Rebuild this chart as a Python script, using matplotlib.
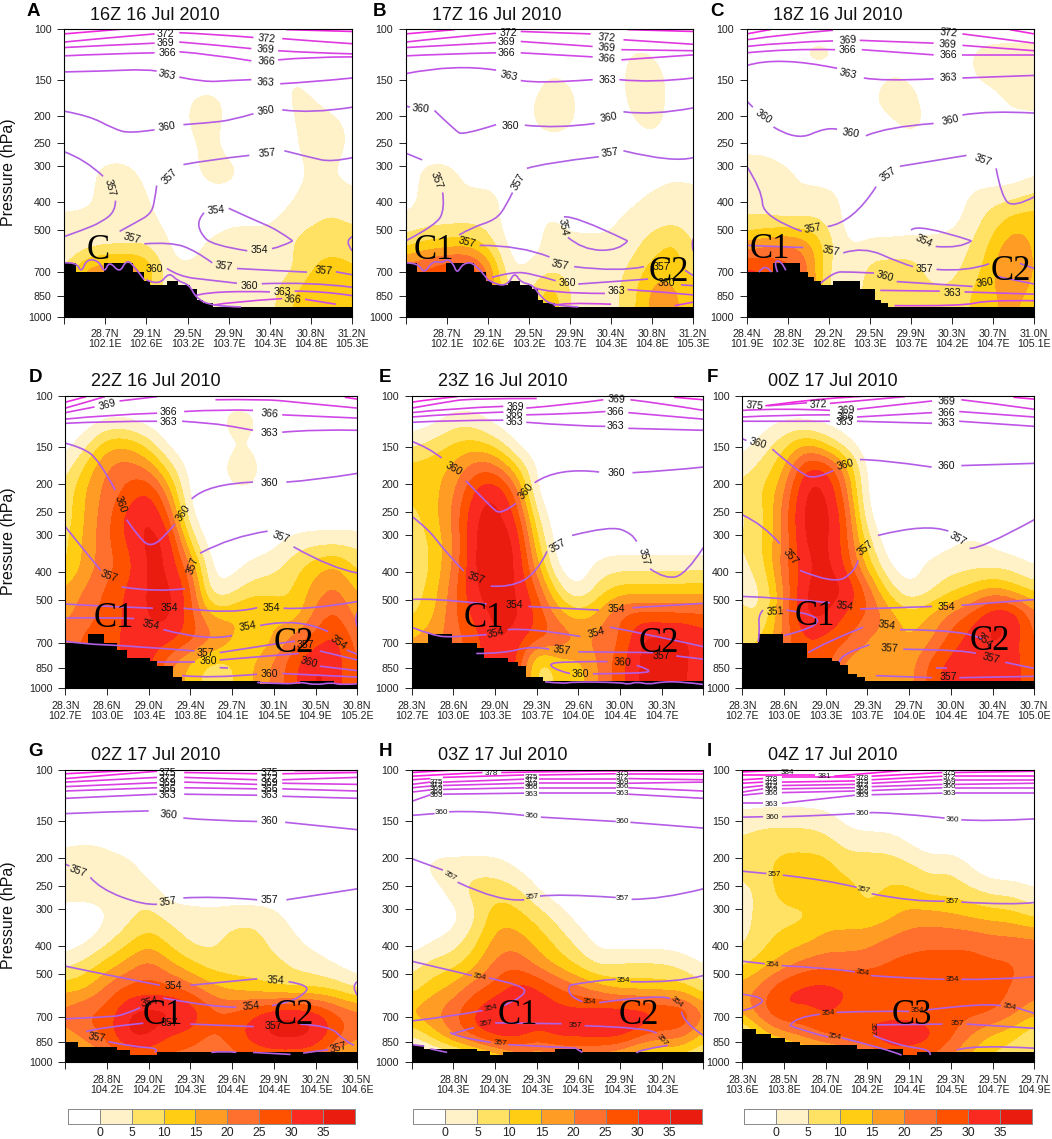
import numpy as np
import matplotlib
matplotlib.use('Agg')
import matplotlib.pyplot as plt
from matplotlib.colors import ListedColormap, BoundaryNorm
from matplotlib.path import Path
from matplotlib.patches import PathPatch

plt.rcParams['font.family'] = ['Liberation Sans', 'DejaVu Sans']

W_PX, H_PX = 1052, 1139

# shading classes
BAR_LEVELS = [-1000, 0, 5, 10, 15, 20, 25, 30, 35, 1000]
BAR_COLORS = ['#ffffff', '#fff2c8', '#ffe264', '#ffcd14', '#ff9c23', '#ff702e',
              '#ff5200', '#fb2a20', '#ea1c10']
BAR_LABELS = ['0', '5', '10', '15', '20', '25', '30', '35']

P_TICKS = [100, 150, 200, 250, 300, 400, 500, 700, 850, 1000]

TITLES = ['16Z 16 Jul 2010', '17Z 16 Jul 2010', '18Z 16 Jul 2010',
          '22Z 16 Jul 2010', '23Z 16 Jul 2010', '00Z 17 Jul 2010',
          '02Z 17 Jul 2010', '03Z 17 Jul 2010', '04Z 17 Jul 2010']
LETTERS = list('ABCDEFGHI')

XLAB_A = ['', '28.7N\n102.1E', '29.1N\n102.6E', '29.5N\n103.2E', '29.9N\n103.7E', '30.4N\n104.3E', '30.8N\n104.8E', '31.2N\n105.3E']
XLAB_B = ['', '28.7N\n102.1E', '29.1N\n102.6E', '29.5N\n103.2E', '29.9N\n103.7E', '30.4N\n104.3E', '30.8N\n104.8E', '31.2N\n105.3E']
XLAB_C = ['28.4N\n101.9E', '28.8N\n102.3E', '29.2N\n102.8E', '29.5N\n103.3E', '29.9N\n103.7E', '30.3N\n104.2E', '30.7N\n104.7E', '31.0N\n105.1E']
XLAB_D = ['28.3N\n102.7E', '28.6N\n103.0E', '29.0N\n103.4E', '29.4N\n103.8E', '29.7N\n104.1E', '30.1N\n104.5E', '30.5N\n104.9E', '30.8N\n105.2E']
XLAB_E = ['28.3N\n102.7E', '28.6N\n103.0E', '29.0N\n103.3E', '29.3N\n103.7E', '29.6N\n104.0E', '30.0N\n104.4E', '30.3N\n104.7E', '']
XLAB_F = ['28.3N\n102.7E', '28.6N\n103.0E', '29.0N\n103.3E', '29.3N\n103.7E', '29.7N\n104.0E', '30.0N\n104.4E', '30.4N\n104.7E', '30.7N\n105.0E']
XLAB_G = ['', '28.8N\n104.2E', '29.0N\n104.2E', '29.3N\n104.3E', '29.6N\n104.4E', '29.9N\n104.4E', '30.2N\n104.5E', '30.5N\n104.6E']
XLAB_H = ['', '28.8N\n104.3E', '29.0N\n104.3E', '29.3N\n104.3E', '29.6N\n104.3E', '29.9N\n104.3E', '30.2N\n104.3E', '']
XLAB_I = ['28.3N\n103.6E', '28.5N\n103.8E', '28.7N\n104.0E', '28.9N\n104.2E', '29.1N\n104.4E', '29.3N\n104.5E', '29.5N\n104.7E', '29.7N\n104.9E']

# shaded field, columns every half tick, rows evenly spaced in log p from 100 to 1000 hPa
FIELD_A = [
    [-4]*15,
    [-4]*15,
    [-4,-4,-4,-4,-4,-4,-4,-4,-4,-4,-4,1,-2,-4,-4],
    [-4,-4,-4,-4,-4,-4,0,3,-1,-4,-4,1,1,-3,-4],
    [-4,-4,-4,-4,-4,-4,0,3,-2,-4,-4,-1,3,3,-2],
    [-4,-4,-4,-4,-4,-4,-2,2,-2,-4,-4,-2,3,3,-2],
    [-4,-3,3,3,-3,-4,-3,3,3,-2,-4,-3,1,0,-3],
    [-4,-3,3,8,0,-4,-4,-3,-3,-4,-4,-1,3,3,2],
    [3,3,1,-1,3,-2,1,-3,-1,-1,-1,3,4,6,4],
    [-2,1,3,4,4,0,-3,1,3,3,3,5,8,8,8],
    [5,18,20,20,17,1,1,2,2,2,2,3,10,13,10],
    [5,18,20,20,10,3,2,1,1,1,3,10,14,14,13],
    [5,18,20,20,10,3,2,1,1,1,3,10,14,14,13]]
FIELD_B = [
    [-4]*15,
    [-4,-4,-4,-4,-4,-4,-4,-4,-4,-4,-4,1,0,-4,-4],
    [-4,-4,-4,-4,-4,-4,-4,1,-1,-4,-4,3,3,-2,-4],
    [-4,-4,-4,-4,-4,-4,-1,4,2,-4,-4,2,3,-2,-4],
    [-4,-4,-4,-4,-4,-4,-1,3,1,-4,-4,-1,3,-3,-4],
    [-4]*15,
    [-4,3,3,-2,-4,-4,-4,-4,-4,-4,-4,-4,-4,-1,-3],
    [-4,3,2,1,3,-2,-4,-4,-4,-4,-4,-2,2,3,3],
    [2,2,3,3,3,-3,-3,2,-2,-2,-1,3,3,3,3],
    [7,12,12,14,8,-2,-3,2,2,2,1,3,7,13,3],
    [25,27,31,31,22,-1,1,3,3,3,3,6,13,13,8],
    [25,27,31,31,22,3,3,17,3,3,3,8,18,17,11],
    [25,27,31,31,22,3,3,17,3,3,3,8,18,17,11]]
FIELD_C = [
    [-4]*15,
    [-4,-4,-4,3,3,-4,-4,-4,-4,-4,-4,1,3,3,3],
    [-4,-4,-4,-4,-4,-4,-3,1,-1,-4,-4,0,3,3,3],
    [-4,-4,-4,-4,-4,-4,-1,4,3,-4,-4,-4,-3,3,3],
    [-4,-4,-4,-4,-4,-4,-4,-2,3,-2,-4,-4,-4,-4,-4],
    [-1,-1,-4,-4,-4,-4,-4,-4,-4,-4,-4,-4,-4,-4,-4],
    [3,3,2,-2,-4,-4,-4,-4,-4,-4,-4,-4,-4,-4,-1],
    [3,3,-1,2,3,-3,-4,-4,-4,-4,-4,2,3,4,7],
    [5,5,5,5,4,-3,-4,-4,-4,-4,-2,3,8,13,13],
    [16,20,22,18,7,-1,2,2,3,3,3,5,12,20,13],
    [33,30,27,22,3,1,7,7,7,3,3,7,15,24,13],
    [33,30,27,22,3,1,8,11,7,6,6,11,15,16,13],
    [33,30,27,22,3,1,8,11,7,6,6,11,15,16,13]]
FIELD_D = [
    [-4]*15,
    [-4,-4,-1,-1,-4,-4,-4,-4,4,2,-4,-4,-4,-4,-4],
    [-3,3,14,14,8,-3,-4,-4,-1,-1,-4,-4,-4,-4,-4],
    [2,12,21,24,20,8,-3,-4,3,3,-4,-4,-4,-4,-4],
    [6,16,22,26,33,18,-3,-4,-1,-1,-4,-4,-4,-4,-4],
    [6,16,23,33,37,27,-1,-4,-4,-4,-4,-4,-4,-4,-4],
    [8,17,24,31,37,36,8,-4,-4,-4,-2,2,3,3,3],
    [8,17,23,27,37,35,22,-2,-3,2,3,8,13,17,8],
    [16,21,26,31,36,37,29,-1,3,8,8,10,18,22,14],
    [18,23,27,31,36,37,28,14,15,18,15,10,22,27,17],
    [22,27,27,32,33,33,28,23,16,9,14,23,27,33,22],
    [22,27,27,32,33,20,13,7,9,15,21,29,37,33,24],
    [22,27,27,32,33,20,13,7,9,15,21,29,37,33,24]]
FIELD_E = [
    [-4]*15,
    [-4,-3,2,2,-3,-4,-4,-4,-4,-4,-4,-4,-4,-4,-4],
    [3,7,11,12,8,-2,-4,-4,-4,-4,-4,-4,-4,-4,-4],
    [13,13,16,24,24,12,-2,-4,-4,-4,-4,-4,-4,-4,-4],
    [11,13,19,32,37,25,-3,-4,-4,-4,-4,-4,-4,-4,-4],
    [8,13,21,36,37,32,4,-4,-4,-4,-4,-4,-4,-4,-4],
    [6,11,19,37,38,37,10,-4,-4,-4,-4,-4,-4,-4,-4],
    [4,11,20,37,38,37,17,-3,-4,2,3,3,3,3,3],
    [7,12,23,36,37,36,26,7,-2,8,12,12,12,12,13],
    [8,14,24,32,37,37,30,18,12,17,27,28,27,27,26],
    [16,18,23,27,36,33,28,26,21,22,24,37,37,37,33],
    [16,18,23,27,36,33,2,12,12,21,28,37,37,37,30],
    [16,18,23,27,36,33,7,12,12,21,28,37,37,37,30]]
FIELD_F = [
    [-4]*15,
    [-4,-3,-1,-2,-3,-4,-4,-4,-4,-4,-4,-4,-4,-4,-4],
    [-3,2,8,16,9,1,-4,-4,-4,-4,-4,-4,-4,-4,-4],
    [3,7,14,32,33,18,-3,-4,-4,-4,-4,-4,-4,-4,-4],
    [7,10,19,37,37,23,-3,-4,-4,-4,-4,-4,-4,-4,-4],
    [3,8,22,38,38,28,-1,-4,-4,-4,-4,-4,-4,-4,-4],
    [5,10,20,37,37,28,7,-4,-4,-4,-1,1,-1,-4,-4],
    [3,8,24,33,38,29,13,-1,-3,2,3,3,3,3,-1],
    [3,3,20,36,38,37,25,8,-1,3,8,12,17,12,8],
    [7,3,22,37,37,28,26,19,12,16,22,27,36,37,22],
    [10,10,22,30,28,27,19,18,14,18,27,33,37,33,23],
    [10,10,22,30,28,17,17,17,17,27,33,33,33,32,27],
    [10,10,22,30,28,17,17,17,17,27,33,33,33,32,27]]
FIELD_G = [
    [-4]*15,
    [-4]*15,
    [-4]*15,
    [-1,0,-1,-4,-4,-4,-4,-4,-4,-4,-4,-4,-4,-4,-4],
    [3,3,3,3,-3,-4,-4,-4,-4,-4,-4,-4,-4,-4,-4],
    [3,3,3,3,3,-3,-4,-4,-4,-4,-4,-4,-4,-4,-4],
    [-3,-4,-1,3,7,3,3,2,3,3,2,-2,-4,-4,-4],
    [-4,-2,3,8,13,8,3,3,7,8,3,1,-3,-4,-4],
    [3,7,12,17,23,16,11,7,7,7,7,4,3,-1,-3],
    [13,14,22,27,27,27,23,17,13,12,8,8,8,8,3],
    [23,27,27,36,38,38,37,27,27,30,36,37,35,27,23],
    [17,22,27,37,37,29,27,23,27,34,38,38,36,28,22],
    [7,12,17,22,22,22,22,22,22,22,22,22,22,12,8]]
FIELD_H = [
    [-4]*15,
    [-4]*15,
    [-4]*15,
    [-4]*15,
    [-3,3,3,3,3,-1,-4,-4,-4,-4,-4,-4,-4,-4,-4],
    [-4,-3,3,8,8,7,0,-4,-4,-4,-4,-4,-4,-4,-4],
    [-4,-4,-3,3,14,12,8,3,-3,-4,-4,-4,-4,-4,-4],
    [-4,-1,2,8,17,18,13,8,3,-3,-4,-4,-4,-4,-4],
    [3,7,8,13,22,24,18,13,8,3,6,6,6,3,-1],
    [7,13,17,24,27,33,32,26,22,17,12,12,12,12,6],
    [18,21,24,32,36,37,34,33,33,36,37,37,33,33,21],
    [3,12,22,29,33,33,28,33,33,33,33,25,22,22,12],
    [-8,-8,-8,-4,4,12,12,12,12,12,8,4,4,4,0]]
FIELD_I = [
    [-4]*15,
    [-4]*15,
    [2,3,3,3,2,-2,-4,-4,-4,-4,-4,-4,-4,-4,-4],
    [6,8,8,8,7,3,3,3,-1,-4,-4,-4,-4,-4,-4],
    [8,8,13,13,13,8,8,8,7,3,5,-1,-4,-4,-4],
    [2,7,13,13,12,13,8,11,11,8,8,6,3,3,0],
    [3,7,8,8,12,12,11,13,17,17,16,14,13,12,8],
    [3,8,12,13,17,17,18,21,23,24,24,24,22,22,22],
    [8,13,17,22,23,23,23,26,27,27,27,27,26,26,23],
    [18,23,31,33,33,31,31,28,27,27,27,27,27,25,22],
    [17,26,31,28,31,28,27,27,27,27,27,27,27,22,17],
    [-3,11,17,22,26,28,32,36,36,33,27,19,12,10,3],
    [-8,-4,-2,2,5,8,12,22,22,22,18,12,8,7,7]]

# terrain steps: left edge of each block and its top pressure
TERRAIN_X_A = [0, .3, .97, 1.67, 1.95, 2.08, 2.5, 2.78, 3.06, 3.22, 3.38, 3.62, 7]
TERRAIN_P_A = [650, 700, 650, 700, 750, 775, 750, 775, 800, 875, 895, 925, 925]
TERRAIN_X_B = [0, .27, .98, 1.67, 1.95, 2.09, 2.5, 2.78, 3.07, 3.21, 3.35, 3.63, 7]
TERRAIN_P_B = [650, 700, 650, 700, 750, 775, 750, 775, 800, 875, 895, 925, 925]
TERRAIN_X_C = [0, .65, 1.3, 1.5, 1.64, 1.8, 2.11, 2.76, 3.12, 3.28, 3.45, 7]
TERRAIN_P_C = [700, 650, 700, 725, 750, 775, 750, 800, 875, 895, 925, 925]
TERRAIN_X_D = [0, .55, .93, 1.23, 1.49, 2.03, 2.2, 2.57, 2.79, 4.67, 5.63, 6.43, 7]
TERRAIN_P_D = [700, 650, 700, 740, 785, 805, 840, 915, 945, 970, 945, 970, 970]
TERRAIN_X_E = [0, .38, .96, 1.56, 1.74, 2.32, 2.54, 2.74, 3.16, 7]
TERRAIN_P_E = [700, 650, 700, 730, 785, 810, 840, 915, 945, 945]
TERRAIN_X_F = [0, .38, .98, 1.56, 2.14, 2.34, 2.54, 2.74, 2.94, 7]
TERRAIN_P_F = [700, 650, 700, 785, 805, 835, 895, 915, 945, 945]
TERRAIN_X_G = [0, .31, 1.23, 1.55, 2.19, 7]
TERRAIN_P_G = [850, 885, 905, 945, 922, 922]
TERRAIN_X_H = [0, .3, 1.56, 1.88, 2.2, 3.44, 4.1, 7]
TERRAIN_P_H = [875, 898, 915, 945, 922, 898, 922, 922]
TERRAIN_X_I = [0, .34, .69, 1.02, 1.38, 2.74, 3.86, 4.18, 7]
TERRAIN_P_I = [770, 800, 825, 850, 875, 900, 945, 922, 922]

# theta contours: (value, [(x, p), ...]), broken where a label sits
THETA_A = [
    (375, [(0,104),(1.45,100)]), (375, [(5.4,100.5),(7,102)]),
    (372, [(0,111),(1,107.5),(2.2,104)]), (372, [(2.8,103),(3.5,104),(4.6,107)]), (372, [(5.3,108),(6,110),(7,112.5)]),
    (369, [(0,116),(1,114),(2.2,112)]), (369, [(2.8,111),(3.5,113),(4.55,117)]), (369, [(5.2,119),(6,121),(7,122)]),
    (366, [(0,124),(1,122),(2.2,121)]), (366, [(2.8,120),(3.5,122),(4.55,129)]), (366, [(5.2,128),(6,125),(7,125)]),
    (363, [(0,141),(1,140),(2,138),(2.25,140)]), (363, [(2.8,147),(3.4,153),(4,151),(4.55,150)]), (363, [(5.25,155),(6,153),(7,148)]),
    (360, [(0,193),(.6,200),(1.2,222),(1.6,231),(2.2,224)]), (360, [(2.9,215),(3.5,212),(4.1,207),(4.6,197)]), (360, [(5.3,191),(6,197),(7,187)]),
    (357, [(0,267),(.5,283),(.95,325)]), (357, [(1.25,395),(1.25,430),(.9,470),(.45,500),(0,527)]),
    (357, [(1.35,505),(1.75,470),(2.1,440),(2.2,400),(2.25,350)]), (357, [(2.9,296),(3.5,285),(4.5,275)]), (357, [(5.35,265),(6,280),(6.5,290),(7,280)]),
    (357, [(1.95,558),(2.6,550),(3.2,590),(3.6,650)]), (357, [(4.2,680),(5,690),(5.9,700)]), (357, [(6.6,698),(7,715)]),
    (354, [(3.4,435),(3.25,460),(3.3,510),(3.6,565),(4.45,590)]), (354, [(5.05,580),(5.3,570),(5.55,545)]), (354, [(4,420),(4.6,460),(5.2,500),(5.55,545)]),
    (354, [(7,527),(6.8,545),(7,590)]),
    (360, [(2.5,680),(2.8,725),(3.5,745),(4.2,765)]), (360, [(4.8,768),(6,757),(7,790)]),
    (363, [(3.2,845),(3.4,825),(4.5,815),(5,820)]), (363, [(5.6,815),(6.3,815),(7,845)]),
    (366, [(3.65,910),(4,890),(5.3,865)]), (366, [(5.85,870),(6.6,905)]),
    (357, [(0,650),(.3,645),(.42,705),(.55,630),(.85,640),(.98,705),(1.1,640),(1.35,705),(1.5,640),(1.65,650),(1.95,745)]),
    (360, [(2,745),(2.3,780),(2.55,700),(2.75,750),(3.05,775),(3.2,860),(3.6,920),(4.3,925)])]
LABELS_A = [(372,2.47,104,0),(372,4.92,108,-5),(369,2.47,112,0),(369,4.9,118,-3),(366,2.5,121,0),(366,4.92,130,-3),
            (363,2.5,144,-12),(363,4.9,153,-3),(360,2.5,219,8),(360,4.9,193,8),(357,1.12,355,-75),(357,2.57,325,45),
            (357,4.92,270,5),(357,1.65,535,-15),(357,3.88,670,-8),(357,6.3,695,-5),(354,3.7,425,5),(354,4.75,585,0),
            (360,2.2,680,0),(360,4.5,780,0),(363,5.3,820,0),(366,5.55,870,-3)]

THETA_B = [
    (375, [(0,104),(1.2,100.5)]), (375, [(5.4,100.5),(7,102)]),
    (372, [(0,111),(1,107),(2.2,103.5)]), (372, [(2.8,102),(4.5,104)]), (372, [(5.3,109),(7,113)]),
    (369, [(0,116),(1,114),(2.2,111.5)]), (369, [(2.8,110.5),(4.55,115)]), (369, [(5.25,118),(7,119)]),
    (366, [(0,124),(1,122),(2.2,121)]), (366, [(2.8,121),(4.55,125)]), (366, [(5.25,128),(7,123)]),
    (363, [(0,143),(1.2,132),(2.2,139)]), (363, [(2.8,151),(3.2,155),(4.55,150)]), (363, [(5.2,150),(6,154),(7,148)]),
    (360, [(0,185),(.1,187)]), (360, [(.7,192),(1.2,225),(1.4,234),(2.2,215)]), (360, [(2.9,216),(3.7,222),(4.6,213)]), (360, [(5.3,194),(6,200),(7,188)]),
    (357, [(0,270),(.4,285)]), (357, [(.9,370),(.95,420),(.75,480),(0,545)]),
    (357, [(1.3,520),(1.6,490),(2.2,460),(2.45,410),(2.6,370)]), (357, [(2.95,305),(3.4,292),(4.7,278)]), (357, [(5.3,265),(6.5,292),(7,280)]),
    (357, [(1.8,565),(2.8,565),(3.5,620)]), (357, [(4.1,670),(5.2,700),(5.8,670)]), (357, [(6.8,690),(7,720)]),
    (354, [(3.85,450),(4.1,443),(5.4,545)]), (354, [(3.95,530),(4.3,585),(5.2,590),(5.4,545)]), (354, [(7,535),(6.95,560),(7,590)]),
    (360, [(2.1,730),(2.6,697),(3.1,710),(3.65,750)]), (360, [(4.2,770),(5.9,740)]), (360, [(6.7,775),(7,780)]),
    (363, [(3.1,790),(3.45,830),(4.85,830)]), (363, [(5.4,805),(6,815),(7,840)]),
    (366, [(3.6,915),(3.8,890),(5,905)]), (366, [(6.55,915),(7,890)]),
    (357, [(0,650),(.3,650),(.45,710),(.65,640),(.9,650),(1,630),(1.15,650),(1.25,710),(1.4,650),(1.7,650),(2,745)]),
    (360, [(2,745),(2.25,780),(2.5,770),(2.65,700),(2.8,760),(3.1,775),(3.3,860),(3.6,915),(4.2,925)])]
LABELS_B = [(372,2.5,103,0),(372,4.9,107,-5),(369,2.45,111,0),(369,4.9,116,-5),(366,2.45,121,0),(366,4.9,127,-5),
            (363,2.5,145,-12),(363,4.9,150,0),(360,.37,190,-5),(360,2.55,217,0),(360,4.95,203,10),(357,.74,335,-70),
            (357,2.75,340,60),(357,4.97,270,8),(357,1.5,553,-15),(357,3.75,660,-12),(357,6.23,670,0),(354,3.83,490,-80),
            (360,3.93,765,0),(360,6.35,765,0),(363,5.13,815,0)]

THETA_C = [
    (375, [(0,104),(.6,100.3)]), (375, [(6.4,100.5),(7,104)]),
    (372, [(0,109),(1,104),(2.1,101)]), (372, [(5.25,104),(7,112)]),
    (369, [(0,115),(1,111),(2.1,110)]), (369, [(2.75,109.5),(4.55,112)]), (369, [(5.25,114),(7,119)]),
    (366, [(0,121),(1,117),(2.15,118)]), (366, [(2.8,118),(4.55,123)]), (366, [(5.25,123),(7,123)]),
    (363, [(0,134),(.75,124),(2.2,137)]), (363, [(2.85,148),(3.3,152),(4.55,149)]), (363, [(5.25,148),(7,145)]),
    (360, [(0,178),(.15,187)]), (360, [(.65,219),(1.2,245),(1.95,219),(2.2,223)]), (360, [(2.9,235),(3.4,219),(4.55,213)]), (360, [(5.25,199),(5.9,192),(7,196)]),
    (357, [(0,300),(.37,363),(.4,450),(1.34,505)]), (357, [(1.97,486),(2.6,470),(3.15,353)]), (357, [(3.73,300),(5.35,275)]), (357, [(6.07,305),(6.2,383),(6.5,418),(7,383)]),
    (357, [(0,565),(1.38,575)]), (357, [(2.35,600),(2.84,570),(3.73,650),(4.05,670)]), (357, [(4.62,685),(5.35,698),(5.9,655)]), (357, [(6.65,653),(7,680)]),
    (354, [(4,500),(4.15,472),(5.47,545)]), (354, [(4.6,570),(5.2,580),(5.47,545)]),
    (360, [(1.8,765),(2.1,700),(2.47,698),(3.1,705)]), (360, [(3.65,755),(5.5,785)]), (360, [(6.1,725),(7,770)]),
    (363, [(3.25,810),(4.7,815)]), (363, [(5.3,820),(7,835)]),
    (366, [(3.6,915),(5.25,920),(5.85,875),(7,880)]),
    (357, [(.3,700),(.45,650),(.6,700)]), (357, [(.75,700),(.65,640),(.85,640),(.95,690)])]
LABELS_C = [(372,4.92,103,-5),(369,2.47,109,5),(369,4.9,113,-3),(366,2.45,118,0),(366,4.9,123,0),(363,2.47,143,-12),
            (363,4.9,148,2),(360,.4,202,-35),(360,2.53,230,-8),(360,4.95,207,12),(357,1.6,495,10),(357,3.43,320,35),
            (357,5.76,285,-20),(357,2.05,590,-12),(357,4.33,680,0),(354,4.3,545,-25),(360,3.35,725,-15),(360,5.8,760,8),(363,5,825,0)]

THETA_D = [
    (375, [(0,105),(.5,100.5)]), (375, [(6.7,101),(7,102.5)]),
    (372, [(0,110),(.6,104),(.95,100.5)]),
    (369, [(0,114),(.7,109)]), (369, [(1.3,104),(2.2,100.5)]), (369, [(3.6,103),(4.8,102.5),(5.5,105),(7,110)]),
    (366, [(0,120),(1,116),(2.2,114.5)]), (366, [(2.85,113),(3.8,111),(4.5,112)]), (366, [(5.2,116),(7,119)]),
    (363, [(0,124),(1,122),(2.2,122)]), (363, [(2.8,122),(3.5,124),(4,127),(4.5,131)]), (363, [(5.2,133),(6,130),(7,131)]),
    (360, [(0,145),(.4,150),(.8,165),(1.2,210)]), (360, [(1.47,265),(1.8,310),(2.07,328),(2.4,300),(2.62,275)]), (360, [(3.03,225),(3.4,200),(4.5,197)]), (360, [(5.3,197),(6,194),(7,184)]),
    (357, [(0,280),(.4,330),(.85,395)]), (357, [(1.35,450),(2.2,470),(2.87,456)]), (357, [(3.23,345),(4,302),(4.85,290)]), (357, [(5.47,328),(6.4,390),(7,403)]),
    (354, [(0,515),(1,525),(2.1,532)]), (354, [(2.83,532),(3.95,560),(4.6,530)]), (354, [(5.23,532),(5.8,540),(7,505)]),
    (354, [(0,575),(1,572),(1.65,577)]), (354, [(2.35,630),(3.4,690),(4,660)]), (354, [(4.67,610),(5.6,572),(6.3,640)]), (354, [(6.75,740),(7,765)]),
    (357, [(0,690),(.4,705),(1.5,715),(3.1,745)]), (357, [(3.7,755),(5.15,700),(5.5,690)]), (357, [(6.1,745),(7,800)]),
    (360, [(2.2,810),(3.1,810)]), (360, [(3.7,850),(3.9,852)]), (360, [(3.7,800),(5.6,760)]), (360, [(6.1,840),(7,870)]),
    (360, [(2.8,905),(3.5,925),(4.6,895)]), (360, [(5.2,890),(7,915)]),
    (354, [(7,550),(6.93,580),(7,615)]),
    (360, [(4.6,955),(5.4,970),(5.6,950),(6,975),(6.4,955),(6.6,975),(7,965)])]
LABELS_D = [(369,1,107,15),(366,2.47,113,0),(366,4.9,115,-5),(363,2.48,123,0),(363,4.9,134,0),(360,1.33,235,-70),
            (360,2.83,252,55),(360,4.9,198,0),(357,1.05,415,-20),(357,3.05,380,70),(357,5.17,305,-20),(354,2.5,532,0),
            (354,4.93,530,0),(354,2.05,605,-12),(354,4.37,615,10),(354,6.55,695,-35),(357,3.37,755,0),(357,5.75,710,0),
            (360,3.43,805,0),(360,5.83,815,-15),(360,4.9,895,0)]

THETA_E = [
    (375, [(0,105),(.6,102),(1.1,100.5)]), (375, [(6.3,101),(7,103)]),
    (372, [(0,110),(.8,105),(1.4,102),(3,102)]),
    (369, [(0,114),(1,110),(2.2,108.5)]), (369, [(2.75,110),(3.8,107),(4.6,103)]), (369, [(5.25,103),(6,106),(7,112)]),
    (366, [(0,118),(1,115),(2.2,113.5)]), (366, [(2.75,116),(4,115),(4.65,113)]), (366, [(5.2,114),(7,120)]),
    (363, [(0,123),(1,121),(2.2,121)]), (363, [(2.75,123),(4,127),(4.65,127)]), (363, [(5.2,129),(7,131)]),
    (360, [(0,143),(.4,150),(.72,163)]), (360, [(1.3,195),(1.9,240),(2.15,255),(2.5,233)]), (360, [(2.95,198),(3.5,175),(4.5,182)]), (360, [(5.3,183),(6.2,180),(7,175)]),
    (357, [(0,258),(.4,285),(.8,340),(1.25,397)]), (357, [(1.9,447),(2.35,452),(3,405),(3.25,340)]), (357, [(3.85,300),(4.75,278),(5.3,295),(5.4,315)]), (357, [(5.72,390),(6.1,425),(6.6,405),(7,330)]),
    (354, [(0,497),(.4,490),(1.8,515)]), (354, [(2.8,525),(4.5,540)]), (354, [(5.3,530),(7,512)]),
    (354, [(0,618),(.5,660),(1,670),(1.8,655)]), (354, [(2.3,630),(2.8,620),(4.05,665)]), (354, [(4.76,618),(5.6,650),(7,720)]),
    (357, [(1.55,760),(2.2,760),(2.9,715),(3.3,735)]), (357, [(4,750),(5.8,755)]), (357, [(6.35,775),(7,795)]),
    (360, [(4.7,810),(3.7,810),(3.25,825),(3.55,875),(3.8,890)]), (360, [(4.35,892),(5.6,890),(5.75,865),(5.4,835)]),
    (360, [(3.2,950),(3.6,965),(3.9,950),(5,955),(5.2,970),(5.4,950),(5.7,970),(6,950),(6.5,950),(7,970)])]
LABELS_E = [(369,2.48,109,0),(369,4.92,103,-3),(366,2.46,115,0),(366,4.9,113,0),(363,2.46,123,0),(363,4.9,127,0),
            (360,1,178,-30),(360,2.75,212,50),(360,4.92,183,0),(357,1.55,420,-20),(357,3.5,325,30),(357,5.58,355,-75),
            (354,2.46,520,0),(354,4.92,537,0),(354,2.02,650,12),(354,4.44,645,15),(357,3.6,740,-8),(357,6,775,0),
            (360,5.05,815,-3),(360,4.05,892,0)]

THETA_F = [
    (375, [(.55,108),(1.3,104.5),(2.2,101.5),(2.9,100.2)]), (375, [(6.5,101),(7,102.5)]),
    (372, [(.62,108),(1.55,105.5)]), (372, [(2.1,106),(3.9,100.5)]),
    (369, [(0,112),(1,110),(2.1,112)]), (369, [(2.75,111),(3.5,108),(4.55,104)]), (369, [(5.25,103),(6,106),(7,111)]),
    (366, [(0,118),(1,116),(2.1,116)]), (366, [(2.75,118),(4.55,114)]), (366, [(5.2,113),(7,118)]),
    (363, [(0,122),(1,122),(2.1,122)]), (363, [(2.75,122),(4.55,124)]), (363, [(5.2,122),(7,127)]),
    (360, [(0,140),(.1,142)]), (360, [(.72,152),(1.4,185),(1.78,192),(2.18,180)]), (360, [(2.82,165),(3.3,165),(4.54,175)]), (360, [(5.25,173),(7,170)]),
    (357, [(0,255),(.5,275),(.9,320)]), (357, [(1.38,395),(2.18,440),(2.7,400),(2.78,365)]), (357, [(3.25,300),(4.42,272),(4.94,290)]), (357, [(5.45,332),(5.7,335),(7,265)]),
    (354, [(0,485),(1,490),(2.1,510)]), (354, [(2.82,535),(4.55,525)]), (354, [(5.25,520),(7,497)]),
    (354, [(1.58,755),(2,695),(2.9,618)]), (354, [(3.78,630),(5.4,630),(5.75,680)]),
    (351, [(.5,540),(.38,560),(.42,640),(.38,695)]), (351, [(1.06,540),(1.82,560),(1.78,620),(1,660)]),
    (357, [(2.33,815),(2.32,765),(3.05,710)]), (357, [(3.86,735),(5.4,740),(5.6,760)]), (357, [(6.3,815),(7,855)]),
    (357, [(3.2,905),(4.55,920)]), (357, [(5.2,920),(7,910)]), (357, [(4.65,852),(4.9,852)])]
LABELS_F = [(375,.3,108,-5),(372,1.82,107,3),(369,2.48,112,3),(369,4.9,104,-3),(366,2.46,118,0),(366,4.9,114,0),
            (363,2.44,123,0),(363,4.9,124,0),(360,.38,145,-15),(360,2.48,172,15),(360,4.9,173,0),(357,1.16,355,-50),
            (357,2.96,330,40),(357,5.17,308,-30),(354,2.46,525,-8),(354,4.9,525,0),(354,3.46,610,-8),(354,5.8,685,-40),
            (351,.78,545,3),(357,3.54,730,-3),(357,5.95,790,-15),(357,4.93,915,0)]

THETA_G = [
    (378, [(0,103),(1.6,100.3)]), (378, [(5.5,100.5),(7,100.3)]),
    (375, [(0,107),(2.2,101)]), (375, [(2.85,102),(4.6,103)]), (375, [(5.2,103),(7,102)]),
    (372, [(0,110),(2.2,106)]), (372, [(2.85,106),(4.6,108)]), (372, [(5.2,108),(7,106)]),
    (369, [(0,114),(2.2,110.5)]), (369, [(2.85,110),(4.6,112)]), (369, [(5.2,111),(7,112)]),
    (366, [(0,118),(2.2,115)]), (366, [(2.85,115),(4.6,116)]), (366, [(5.2,116),(7,118)]),
    (363, [(0,125),(2.2,121)]), (363, [(2.85,121),(4.6,122)]), (363, [(5.2,123),(7,125)]),
    (360, [(0,141),(1,139),(2,138)]), (360, [(2.83,146),(3.5,149),(4.6,150)]), (360, [(5.27,151),(7,160)]),
    (357, [(0,210),(.1,213)]), (357, [(.6,233),(.83,255),(1.87,290),(2.2,288)]), (357, [(2.83,274),(3.55,270),(4.6,278)]), (357, [(5.3,278),(7,255)]),
    (354, [(0,469),(1.07,505),(2.27,545)]), (354, [(3,545),(4.6,518)]), (354, [(5.35,530),(5.9,545),(5.63,600),(5.2,630),(4.95,640)]),
    (354, [(4.1,648),(3.55,648),(2.35,603)]), (354, [(1.8,650),(1.4,690),(1,700),(0,710)]),
    (357, [(.5,785),(.85,760),(1.87,735)]), (357, [(3,740),(4.52,755)]), (357, [(5.63,740),(6.35,750),(6.67,840),(6.92,875)]),
    (357, [(1.03,850),(1.63,885),(2.27,895),(2.15,925)]), (357, [(6.3,905),(5.7,930)]),
    (354, [(7,530),(6.85,547),(7,590)]), (357, [(3.5,925),(3.8,915),(4.1,925)]), (357, [(4.5,925),(5.4,940)])]
LABELS_G = [(375,2.45,102.5,0),(372,2.45,107,0),(369,2.45,111,0),(366,2.45,116,0),(363,2.45,122,0),
            (375,4.9,102.5,0),(372,4.9,107,0),(369,4.9,111,0),(366,4.9,116,0),(363,4.9,122,0),
            (360,2.47,142,-5),(360,4.9,150,0),(357,.31,222,-20),(357,2.47,283,8),(357,4.9,278,0),
            (354,2.6,548,0),(354,5.05,525,-3),(354,4.45,645,5),(354,2.03,625,12),(357,2.5,735,0),(357,5,752,0),
            (357,.75,820,-10),(357,6.55,890,15)]

THETA_H = [
    (381, [(0,102),(.9,100.2)]), (381, [(4,100.5),(7,101)]),
    (378, [(0,105),(1.7,102)]), (378, [(2.15,102),(4.9,100.5)]),
    (375, [(0,108),(.45,107)]), (375, [(.75,106),(2.7,104)]), (375, [(3.05,104),(4.9,103)]), (375, [(5.2,103),(7,103)]),
    (372, [(0,112),(.45,110)]), (372, [(.75,110),(2.7,107.5)]), (372, [(3.05,107),(4.9,107)]), (372, [(5.2,107),(7,108)]),
    (369, [(0,115),(.45,113.5)]), (369, [(.75,113),(2.7,111)]), (369, [(3.05,111),(4.9,111)]), (369, [(5.2,111),(7,110)]),
    (366, [(0,119),(.45,117)]), (366, [(.75,116.5),(2.7,115)]), (366, [(3.05,115),(4.9,115)]), (366, [(5.2,115),(7,118)]),
    (363, [(0,128),(.45,121.5)]), (363, [(.75,121),(2.7,120)]), (363, [(3.05,120),(4.9,120)]), (363, [(5.2,121),(7,125)]),
    (360, [(0,143),(.55,141)]), (360, [(.9,139),(1.6,137.5),(2.7,143)]), (360, [(3.1,145),(4.9,150)]), (360, [(5.25,151),(7,158)]),
    (357, [(0,201),(.75,220)]), (357, [(1.1,242),(2.1,283),(2.7,278)]), (357, [(3.08,270),(3.55,265),(4.9,273)]), (357, [(5.28,277),(6,277),(7,255)]),
    (354, [(0,451),(1.45,505)]), (354, [(1.85,515),(2.7,545),(2.72,595),(2.2,640)]), (354, [(1.7,665),(1,695),(0,722)]),
    (354, [(3.8,545),(4.35,525),(4.9,520)]), (354, [(5.25,530),(6.35,535),(7,505)]), (354, [(3.8,545),(3.68,590),(4.1,620)]),
    (354, [(4.5,625),(5.95,585),(6.2,605)]), (354, [(6.48,670),(6.48,720),(7,810)]),
    (357, [(.95,800),(1.5,760)]), (357, [(2,733),(3.6,738)]), (357, [(4.15,750),(5.7,760),(5.88,795)]), (357, [(6.15,875),(5.4,910),(5.4,930)]),
    (357, [(.92,790),(1.08,820),(1.9,855)]), (357, [(2.32,870),(3.96,895)]),
    (354, [(0,870),(.3,880)]), (354, [(.45,900),(.85,925)]), (354, [(3.96,900),(4.1,925)])]
LABELS_H = [(375,.6,110,0),(372,.6,113,0),(369,.6,116,0),(366,.6,119,0),(363,.6,122,0),(378,1.92,103,0),
            (375,2.87,106,0),(372,2.87,109,0),(369,2.87,112,0),(366,2.87,115,0),(363,2.87,121,0),
            (375,5.05,103,0),(372,5.05,106,0),(369,5.05,110,0),(366,5.05,114,0),(363,5.05,120,0),
            (360,.72,140,0),(360,2.88,144,-5),(360,5.05,150,0),(357,.92,230,-30),(357,2.9,272,5),(357,5.06,275,0),
            (354,1.63,510,-12),(354,1.9,655,12),(354,5.08,523,0),(354,4.26,622,-3),(354,6.36,622,-40),
            (357,1.78,740,8),(357,3.94,748,0),(357,6,840,-50),(357,2.12,860,-5)]

THETA_I = [
    (384, [(0,101.5),(.85,100.3)]),
    (381, [(0,104),(1.75,104)]), (381, [(2.2,105),(3.8,100.5)]),
    (378, [(0,108),(.5,107)]), (378, [(.95,106),(2.7,106)]), (378, [(3.1,105),(4.8,102)]), (378, [(5.1,102),(7,101)]),
    (375, [(0,111),(.5,110)]), (375, [(.95,110),(2.7,109)]), (375, [(3.1,108),(4.8,105)]), (375, [(5.1,105),(7,105)]),
    (372, [(0,115),(.5,113)]), (372, [(.95,113),(2.7,112)]), (372, [(3.1,111),(4.8,108)]), (372, [(5.1,108),(7,108)]),
    (369, [(0,119),(.5,116)]), (369, [(.95,116),(2.7,115)]), (369, [(3.1,114),(4.8,112)]), (369, [(5.1,112),(7,111)]),
    (366, [(0,122),(.5,120)]), (366, [(.95,119.5),(2.7,118)]), (366, [(3.1,117.5),(4.8,115)]), (366, [(5.1,115),(7,115)]),
    (363, [(0,130),(.5,130)]), (363, [(.95,130),(2,125),(2.7,122)]), (363, [(3.1,121.5),(4.8,120)]), (363, [(5.1,120),(7,120)]),
    (360, [(0,145),(.5,144.5)]), (360, [(.95,144.5),(2.05,143),(2.7,141)]), (360, [(3.05,140),(3.4,139),(4.85,146)]), (360, [(5.25,148),(5.85,150),(7,147)]),
    (357, [(0,222),(.58,226)]), (357, [(.97,229),(2.05,238),(2.74,252)]), (357, [(3.1,265),(4.1,283),(4.85,281)]), (357, [(5.25,283),(6.5,290),(7,284)]),
    (354, [(0,451),(.54,460)]), (354, [(.94,467),(2,475),(2.7,490)]), (354, [(3.08,505),(4.15,518),(4.85,520)]), (354, [(5.25,520),(6,523),(7,510)]),
    (354, [(0,585),(.62,600),(.26,655),(0,665)]),
    (354, [(1.14,750),(1.26,700),(1.86,685)]), (354, [(2.26,675),(3.54,665),(4,670)]), (354, [(4.42,662),(5.85,625),(6.2,640)]), (354, [(6.57,650),(7,680)]),
    (354, [(1.14,748),(1.38,775),(2.06,820)]), (354, [(2.38,825),(3.46,900),(3.82,945)]),
    (357, [(3.22,745),(4.8,740)]), (357, [(5.38,740),(7,765)]),
    (357, [(3.14,810),(3.78,880),(4.54,905),(4.5,945)]), (357, [(5.14,908),(5.54,870),(7,895)])]
LABELS_I = [(384,1.09,102,0),(381,1.98,105,0),(378,.7,108,0),(375,.7,111,0),(372,.7,114,0),(369,.7,117,0),(366,.7,120,0),
            (363,.7,131,0),(378,2.88,107,0),(375,2.88,110,0),(372,2.88,113,0),(369,2.88,116,0),(366,2.88,119,0),(363,2.88,122,0),
            (375,4.97,103,0),(372,4.97,106,0),(369,4.97,110,0),(366,4.97,114,0),(363,4.97,120,0),
            (360,.72,145,0),(360,2.88,141,0),(360,5.03,148,-3),(357,.77,227,0),(357,2.9,257,-12),(357,5.04,281,0),
            (354,.72,465,-3),(354,2.88,495,-10),(354,5.04,520,0),(354,2.06,680,3),(354,4.2,665,0),(354,6.4,645,-12),
            (354,2.22,817,-10),(357,3.12,770,-90),(357,5.16,735,0)]

CELLS = {
    'A': [('C', .82, 590)],
    'B': [('C1', .69, 590), ('C2', 6.4, 700)],
    'C': [('C1', .57, 585), ('C2', 6.42, 695)],
    'D': [('C1', 1.17, 575), ('C2', 5.48, 700)],
    'E': [('C1', 1.74, 575), ('C2', 5.94, 700)],
    'F': [('C1', 1.74, 570), ('C2', 5.93, 690)],
    'G': [('C1', 2.33, 690), ('C2', 5.47, 690)],
    'H': [('C1', 2.54, 690), ('C2', 5.46, 690)],
    'I': [('C3', 4.07, 690)],
}

FIELDS = [FIELD_A, FIELD_B, FIELD_C, FIELD_D, FIELD_E, FIELD_F, FIELD_G, FIELD_H, FIELD_I]
XLABS = [XLAB_A, XLAB_B, XLAB_C, XLAB_D, XLAB_E, XLAB_F, XLAB_G, XLAB_H, XLAB_I]
TERRAINS = [(TERRAIN_X_A, TERRAIN_P_A), (TERRAIN_X_B, TERRAIN_P_B), (TERRAIN_X_C, TERRAIN_P_C),
            (TERRAIN_X_D, TERRAIN_P_D), (TERRAIN_X_E, TERRAIN_P_E), (TERRAIN_X_F, TERRAIN_P_F),
            (TERRAIN_X_G, TERRAIN_P_G), (TERRAIN_X_H, TERRAIN_P_H), (TERRAIN_X_I, TERRAIN_P_I)]
THETAS = [THETA_A, THETA_B, THETA_C, THETA_D, THETA_E, THETA_F, THETA_G, THETA_H, THETA_I]
LABELS = [LABELS_A, LABELS_B, LABELS_C, LABELS_D, LABELS_E, LABELS_F, LABELS_G, LABELS_H, LABELS_I]

LINE_COLORS = {351: '#b060e4', 354: '#b060e4', 357: '#b060e4', 360: '#b45ce6', 363: '#c052e8',
               366: '#d048e8', 369: '#d840e4', 372: '#e038e0', 375: '#f028e0', 378: '#f820e0',
               381: '#fc18dc', 384: '#ff10d8'}

AX_BOX = [[(64, 288.3), (405.7, 287.6), (746.7, 287.6)],
          [(65.3, 292), (411.7, 291.6), (742.3, 292)],
          [(65.3, 292), (411.7, 291.6), (742.3, 292)]]
AX_TOP = [29, 396, 770]
AX_H = [287.7, 292.3, 292.3]
LETTER_DX = [37, 33, 36]
BAR_BOX = [(67.7, 355.2), (413.3, 701.7), (744.3, 1032.3)]


def px_axes(left, top, w, h):
    return fig.add_axes([left / W_PX, 1 - (top + h) / H_PX, w / W_PX, h / H_PX])


def curve(pts):
    # quadratic curve through the segment midpoints, the points are the controls
    xy = [(x, np.log10(p)) for x, p in pts]
    if len(xy) == 2:
        return Path(xy, [Path.MOVETO, Path.LINETO])
    verts, codes = [xy[0]], [Path.MOVETO]
    for i in range(1, len(xy) - 1):
        if i < len(xy) - 2:
            end = ((xy[i][0] + xy[i + 1][0]) / 2, (xy[i][1] + xy[i + 1][1]) / 2)
        else:
            end = xy[-1]
        verts += [xy[i], end]
        codes += [Path.CURVE3, Path.CURVE3]
    return Path(verts, codes)


fig = plt.figure(figsize=(W_PX / 100, H_PX / 100), dpi=100)
cmap = ListedColormap(BAR_COLORS)
norm = BoundaryNorm(BAR_LEVELS, cmap.N)
dy = 1 / 24

for n in range(9):
    row, col = n // 3, n % 3
    left, width = AX_BOX[row][col]
    top = AX_TOP[row]
    ax = px_axes(left, top, width, AX_H[row])
    ax.imshow(np.array(FIELDS[n], dtype=float), extent=(-.25, 7.25, 3 + dy, 2 - dy), origin='upper',
              aspect='auto', cmap=cmap, norm=norm, interpolation='bicubic', interpolation_stage='data', zorder=1)
    tx, tp = TERRAINS[n]
    ax.fill_between(tx, np.log10(tp), 3.0, step='post', color='black', lw=0, zorder=3)

    for value, pts in THETAS[n]:
        ax.add_patch(PathPatch(curve(pts), fill=False, ec=LINE_COLORS[value], lw=1.2, zorder=4))
    lab_size = 5.8 if n >= 7 else 7.6
    for value, x, p, ang in LABELS[n]:
        ax.text(x, np.log10(p), str(value), fontsize=lab_size, color='#111111', rotation=ang,
                rotation_mode='anchor', ha='center', va='center', zorder=5)
    for name, x, p in CELLS[LETTERS[n]]:
        ax.text(x, np.log10(p), name, fontsize=25, family='Liberation Serif', color='black',
                ha='center', va='center', zorder=6)

    ax.set_xlim(0, 7)
    ax.set_ylim(3, 2)
    ax.set_xticks(range(8))
    ax.set_xticklabels(XLABS[n], fontsize=7.7, linespacing=1.0)
    ax.set_yticks(np.log10(P_TICKS))
    ax.set_yticklabels([str(p) for p in P_TICKS], fontsize=7.7)
    ax.tick_params(length=5, width=0.7, pad=4, color='#222222', labelcolor='#222222')
    for s in ax.spines.values():
        s.set_linewidth(0.8)
        s.set_zorder(7)

    fig.text((left + 26) / W_PX, 1 - (top - 14) / H_PX, TITLES[n], fontsize=13, ha='left', va='center', color='#111111')
    fig.text((left - LETTER_DX[col]) / W_PX, 1 - (top - 18) / H_PX, LETTERS[n], fontsize=13.5, fontweight='bold',
             ha='left', va='center', color='black')
    if col == 0:
        fig.text(8.5 / W_PX, 1 - (top + AX_H[row] / 2 - 1) / H_PX, 'Pressure (hPa)', fontsize=11.5, rotation=90,
                 ha='center', va='center', color='#111111')

for x0, x1 in BAR_BOX:
    cax = px_axes(x0, 1108.5, x1 - x0, 15)
    cax.pcolormesh(np.arange(10), [0, 1], np.arange(9)[None, :], cmap=cmap, vmin=-.5, vmax=8.5,
                   edgecolors='#8a8a8a', linewidth=0.6)
    cax.set_xlim(0, 9)
    cax.set_ylim(0, 1)
    cax.set_yticks([])
    cax.set_xticks(range(1, 9))
    cax.set_xticklabels(BAR_LABELS, fontsize=8.8, color='#222222')
    cax.tick_params(length=0, pad=2.5)
    for s in cax.spines.values():
        s.set_linewidth(0.7)
        s.set_color('#8a8a8a')

fig.savefig('out.png', dpi=100)
